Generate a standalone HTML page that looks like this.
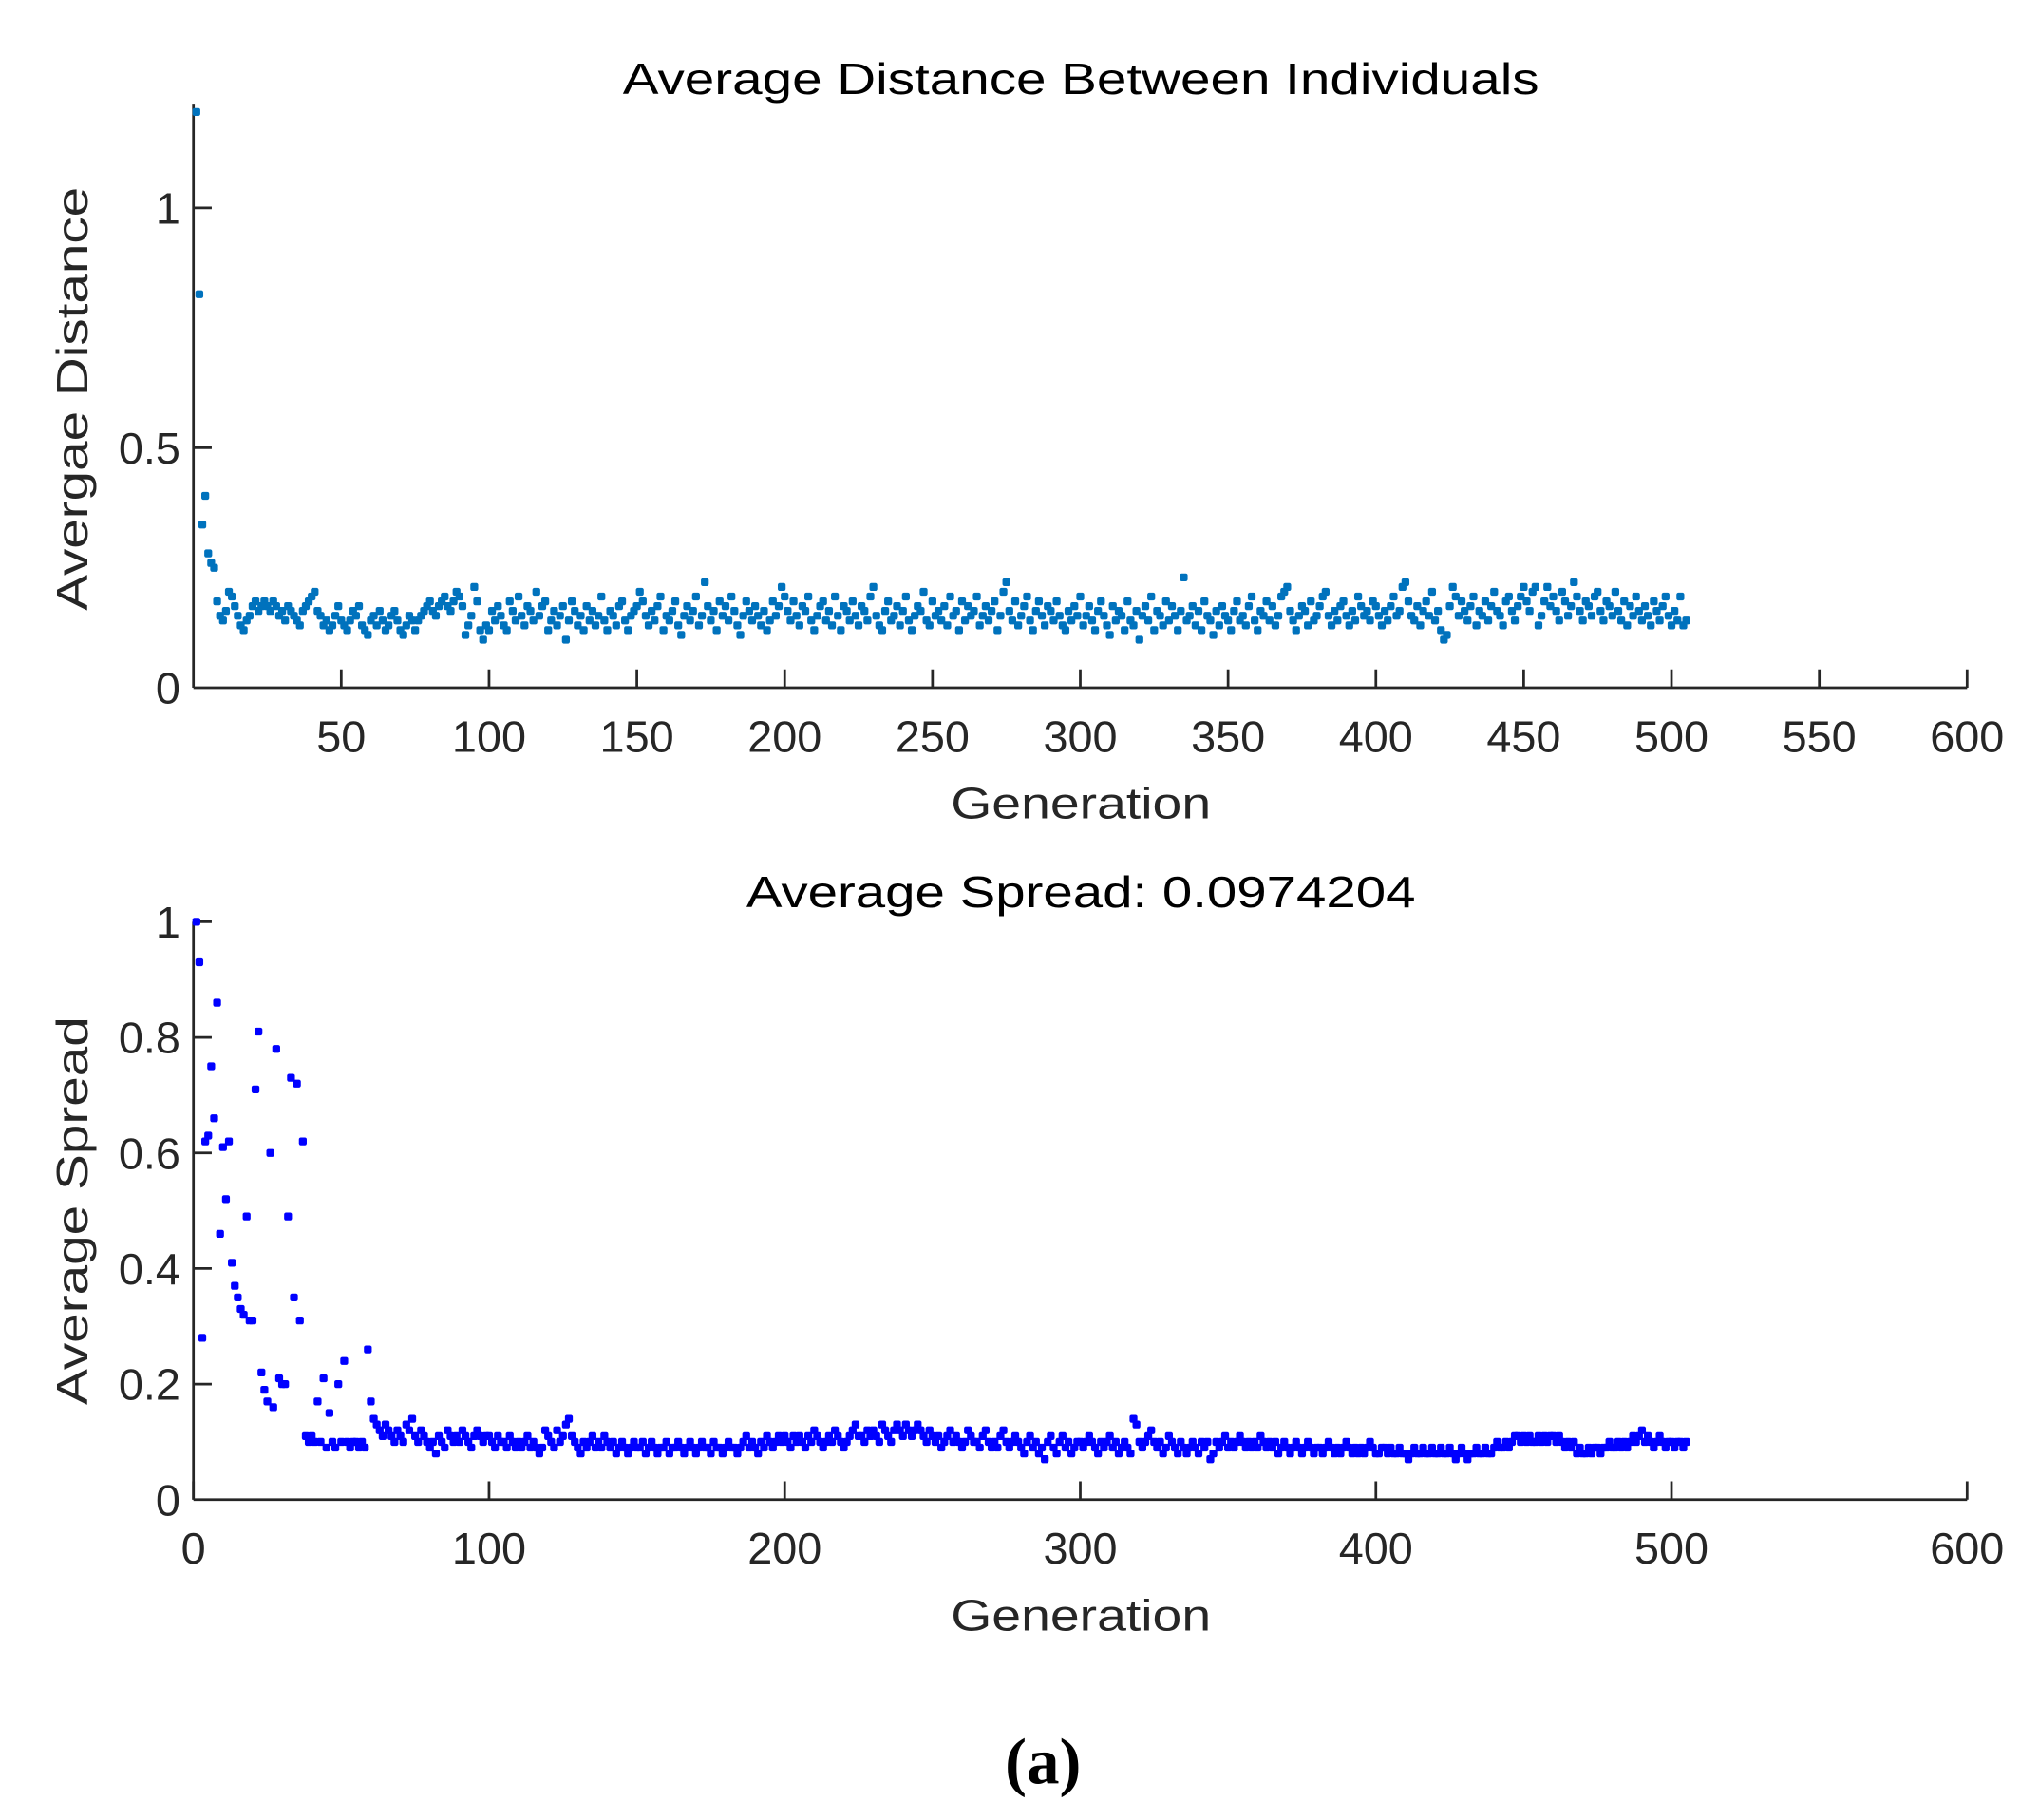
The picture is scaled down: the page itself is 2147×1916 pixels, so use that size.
<!DOCTYPE html>
<html><head><meta charset="utf-8"><style>
html,body{margin:0;padding:0;background:#fff;}
svg{display:block;}
text{font-family:"Liberation Sans",Arial,sans-serif;fill:#262626;}
</style></head><body>
<svg id="fig" width="2147" height="1916" viewBox="0 0 1560 1392" preserveAspectRatio="none" xmlns="http://www.w3.org/2000/svg">
<g id="top"></g>
<g id="bot"></g>
<text x="798" y="1364" text-anchor="middle" style="font-family:'Liberation Serif',serif;font-weight:bold;font-size:50px;fill:#000">(a)</text>
</svg>
<script>
// values in hundredths, generation = index+1
const distanceValues = [120,82,34,40,28,26,25,18,15,14,16,20,19,17,15,13,12,14,15,17,18,16,17,18,17,
16,18,17,15,16,14,17,16,15,14,13,16,17,18,19,20,16,15,13,14,12,13,15,17,14,
13,12,14,16,15,17,13,12,11,14,15,13,16,14,12,13,15,16,14,12,11,13,15,14,12,
14,15,16,17,18,16,15,17,18,19,17,16,18,20,19,17,11,13,15,21,18,12,10,13,12,
16,14,17,15,13,12,18,16,14,19,15,13,17,16,14,20,15,17,18,12,14,16,13,15,17,
10,14,18,16,13,15,12,17,14,16,13,15,19,14,12,16,15,13,17,18,14,12,15,16,17,
20,18,15,13,16,14,17,19,12,15,14,16,18,13,11,15,17,14,16,19,13,15,22,17,14,
16,12,18,15,17,14,19,16,13,11,15,18,16,14,17,15,13,16,12,14,18,15,17,21,19,
16,14,18,15,13,17,16,19,14,12,15,17,18,14,16,13,19,15,12,17,16,14,18,15,13,
17,16,14,19,21,15,13,12,16,18,14,15,17,13,16,19,14,12,15,17,16,20,14,13,18,
15,16,14,17,13,19,15,16,12,18,14,17,15,16,19,13,15,17,14,16,18,12,15,20,22,
16,14,18,13,15,17,19,14,12,16,18,15,13,17,16,14,18,15,13,12,16,14,17,15,19,
13,15,17,14,12,16,18,15,13,11,17,14,16,15,12,18,14,13,16,10,15,17,14,19,12,
16,15,13,18,14,17,15,12,16,23,14,15,17,13,16,12,18,15,14,11,16,13,17,15,14,
12,16,18,14,15,13,17,19,14,12,16,15,18,14,17,13,15,19,20,21,16,14,12,15,17,
16,13,18,14,15,17,19,20,15,13,16,14,17,18,15,13,16,14,19,17,15,16,14,18,17,
15,13,16,14,17,19,15,16,21,22,18,15,14,17,13,16,18,15,20,14,16,12,10,11,17,
21,19,15,18,16,14,17,19,13,16,15,18,14,17,20,16,15,13,18,19,16,14,17,19,21,
18,16,20,21,13,15,18,21,17,19,16,14,20,18,15,17,22,19,16,14,18,17,15,19,20,
16,14,18,17,15,20,16,14,18,13,17,15,19,16,14,17,15,13,18,16,14,17,19,15,13,
16,14,19,13,14];
const spreadValues = [100,93,28,62,63,75,66,86,46,61,52,62,41,37,35,33,32,49,31,31,71,81,22,19,17,
60,16,78,21,20,20,49,73,35,72,31,62,11,10,11,10,17,10,21,9,15,10,9,20,10,
24,10,9,10,10,9,10,9,26,17,14,13,12,11,13,12,11,10,12,11,10,13,12,14,11,
10,12,11,10,9,10,8,11,10,9,12,11,10,11,10,12,11,10,9,11,12,11,10,11,11,
10,9,11,10,10,9,11,10,9,10,9,10,11,9,10,9,8,9,12,11,10,9,12,10,11,
13,14,11,10,9,8,10,9,10,11,9,10,9,11,10,9,10,8,9,10,9,8,9,10,9,
9,10,8,9,10,9,8,9,9,10,8,9,9,10,9,8,9,10,9,8,9,10,9,9,8,
10,9,9,8,9,10,9,9,8,9,10,11,9,10,9,8,10,9,11,10,9,10,11,10,11,
10,9,11,10,11,10,9,11,10,12,11,10,9,10,11,10,12,11,10,9,10,11,12,13,11,
11,10,12,11,12,11,10,13,12,11,10,12,13,12,11,13,12,11,12,13,12,11,10,12,11,
10,11,9,10,11,12,10,11,10,9,10,12,11,10,10,9,11,12,10,9,10,9,11,12,10,
9,10,11,10,9,8,10,11,9,10,8,9,7,10,11,9,8,10,11,9,10,8,9,10,10,
9,10,11,10,9,8,10,9,10,11,9,10,8,9,10,9,8,14,13,10,9,10,11,12,10,
9,10,8,9,11,10,9,8,10,9,8,9,10,9,8,10,9,10,7,8,10,9,10,11,9,
10,9,10,11,10,9,10,9,10,9,11,10,9,10,9,10,8,9,10,9,8,9,10,9,8,
9,10,9,8,9,9,8,9,10,9,8,9,8,9,10,9,8,9,8,9,8,9,10,9,8,
8,9,9,8,9,8,8,9,8,8,7,8,9,8,8,9,8,8,9,8,8,9,8,8,9,
8,7,8,9,8,7,8,8,9,8,8,9,8,8,9,10,9,9,10,9,10,11,11,10,11,
10,11,10,10,11,10,11,10,11,11,10,11,10,9,10,9,10,8,9,8,8,9,8,9,9,
8,9,9,10,9,9,10,9,10,9,10,11,10,11,12,10,11,10,9,10,11,10,9,10,10,
9,10,10,9,10];
const topXTicks = [50,100,150,200,250,300,350,400,450,500,550,600];
const topYTicks = [0,0.5,1];
const topYLabels = ["0","0.5","1"];
const botXTicks = [0,100,200,300,400,500,600];
const botYTicks = [0,0.2,0.4,0.6,0.8,1];
const botYLabels = ["0","0.2","0.4","0.6","0.8","1"];

const NS="http://www.w3.org/2000/svg";
function mk(parent,tag,attrs,txt){const e=document.createElementNS(NS,tag);for(const k in attrs)e.setAttribute(k,attrs[k]);if(txt!==undefined)e.textContent=txt;parent.appendChild(e);return e;}

function drawPanel(g,cfg){
  const X=v=>cfg.x0+(v/600)*(cfg.x1-cfg.x0);
  const Y=v=>cfg.y0-v*cfg.yu;
  let a=mk(g,'line',{x1:cfg.x0,y1:cfg.y0,x2:cfg.x1,y2:cfg.y0,stroke:'#262626','stroke-width':2});
  
  
  a=mk(g,'line',{x1:cfg.x0,y1:cfg.y0,x2:cfg.x0,y2:cfg.ytop,stroke:'#262626','stroke-width':2});
  
  
  cfg.xt.forEach(v=>{
    const t=mk(g,'line',{x1:X(v),y1:cfg.y0,x2:X(v),y2:cfg.y0-14,stroke:'#262626','stroke-width':2});
    
    
    const l=mk(g,'text',{x:X(v),y:cfg.y0+49,'text-anchor':'middle','font-size':34},String(v));
    
    
  });
  cfg.yt.forEach((v,i)=>{
    if(v>0){const t=mk(g,'line',{x1:cfg.x0,y1:Y(v),x2:cfg.x0+14,y2:Y(v),stroke:'#262626','stroke-width':2});
    
    }
    const l=mk(g,'text',{x:cfg.x0-10,y:Y(v)+12,'text-anchor':'end','font-size':34},cfg.yl[i]);
    
    
  });
  cfg.data.forEach((v,i)=>{
    const p=mk(g,'rect',{x:X(i+1)-3,y:Y(v/100)-3,width:6,height:6,rx:1.5,fill:cfg.color});
    
    
  });
  let t=mk(g,'text',{x:827,y:cfg.titleY,'text-anchor':'middle','font-size':34,textLength:cfg.titleW,lengthAdjust:'spacingAndGlyphs',style:'fill:#000'},cfg.title);
  
  
  t=mk(g,'text',{x:827,y:cfg.y0+100,'text-anchor':'middle','font-size':34,textLength:199,lengthAdjust:'spacingAndGlyphs'},'Generation');
  
  
  t=mk(g,'text',{x:0,y:0,'text-anchor':'middle','font-size':34,textLength:cfg.ylW,lengthAdjust:'spacingAndGlyphs',transform:`translate(67,${cfg.ylY}) rotate(-90)`},cfg.ylab);
  
  
}
drawPanel(document.getElementById('top'),{x0:148,x1:1505,y0:526,yu:367,ytop:80,xt:topXTicks,yt:topYTicks,yl:topYLabels,data:distanceValues,color:'#0072BD',title:'Average Distance Between Individuals',titleY:72,titleW:701,ylab:'Avergae Distance',ylW:324,ylY:305});
drawPanel(document.getElementById('bot'),{x0:148,x1:1505,y0:1147,yu:442,ytop:705,xt:botXTicks,yt:botYTicks,yl:botYLabels,data:spreadValues,color:'#0000FF',title:'Average Spread: 0.0974204',titleY:694,titleW:512,ylab:'Average Spread',ylW:297,ylY:926});
</script>
</body></html>
